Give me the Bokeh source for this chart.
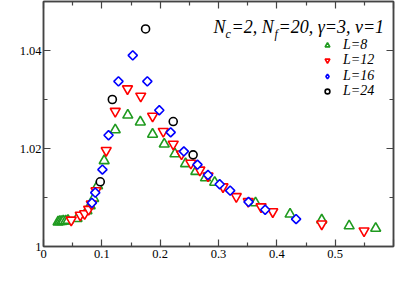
import numpy as np
from bokeh.plotting import figure
from bokeh.models import (LinearAxis, FixedTicker, Range1d, Label, Legend, LegendItem)
from bokeh.embed import file_html
from bokeh.resources import INLINE

# ---- data ----
x_L8 = [0.025, 0.028, 0.031, 0.034, 0.038, 0.042, 0.0575, 0.0745, 0.080, 0.086, 0.0927,
        0.104, 0.123, 0.1445, 0.166, 0.187, 0.207, 0.2253, 0.2435, 0.2611, 0.2777, 0.2935,
        0.3635, 0.4227, 0.477, 0.524, 0.5695]
y_L8 = [1.0050, 1.0051, 1.0051, 1.0052, 1.0052, 1.0053, 1.0057, 1.0073, 1.0083, 1.0098, 1.0124,
        1.0175, 1.0238, 1.0268, 1.0254, 1.0229, 1.0209, 1.0189, 1.0169, 1.0153, 1.0140, 1.0131,
        1.0089, 1.0066, 1.0054, 1.0042, 1.0037]

x_L12 = [0.0475, 0.063, 0.0705, 0.0774, 0.082, 0.090, 0.1075, 0.123, 0.144, 0.1667, 0.187,
         0.2053, 0.2224, 0.2366, 0.2526, 0.268, 0.282, 0.3077, 0.3305, 0.351, 0.373, 0.393,
         0.477, 0.5495]
y_L12 = [1.0054, 1.0064, 1.0067, 1.0076, 1.0087, 1.0114, 1.0196, 1.0276, 1.0322, 1.0307, 1.0266,
         1.0235, 1.0209, 1.0189, 1.0170, 1.0156, 1.0144, 1.0122, 1.0102, 1.0092, 1.0081, 1.0071,
         1.0046, 1.0032]

x_L16 = [0.083, 0.0887, 0.101, 0.1115, 0.1285, 0.153, 0.178, 0.1985, 0.218, 0.2406, 0.264,
         0.282, 0.302, 0.320, 0.3515, 0.380, 0.433]
y_L16 = [1.0089, 1.0110, 1.0157, 1.0227, 1.0337, 1.0390, 1.0337, 1.0278, 1.0233, 1.0194, 1.0167,
         1.0146, 1.0127, 1.0114, 1.0091, 1.0075, 1.0056]

x_L24 = [0.0973, 0.118, 0.175, 0.2224, 0.2565]
y_L24 = [1.0132, 1.0300, 1.0444, 1.0255, 1.0187]

series_labels = ["L=8", "L=12", "L=16", "L=24"]
x_ticks = [0, 0.1, 0.2, 0.3, 0.4, 0.5, 0.6]
x_tick_labels = ["0", "0.1", "0.2", "0.3", "0.4", "0.5", ""]
y_ticks = [1.0, 1.02, 1.04]
y_tick_labels = ["1", "1.02", "1.04"]

SERIF = "Liberation Serif"
GREEN = "#1f9a1f"
AXC = "#444444"

p = figure(output_backend="svg", toolbar_location=None,
           frame_width=350, frame_height=245,
           x_range=Range1d(0, 0.6), y_range=Range1d(1.0, 1.05),
           min_border_left=43, min_border_right=2, min_border_top=1, min_border_bottom=40,
           x_axis_location=None, y_axis_location=None)
p.grid.visible = False
p.outline_line_color = AXC
p.outline_line_width = 1.5
p.background_fill_color = "white"
p.border_fill_color = "white"

def style_axis(ax, ticks, minor, overrides, show_labels, standoff=3):
    ax.ticker = FixedTicker(ticks=ticks, minor_ticks=minor)
    ax.axis_line_color = AXC
    ax.axis_line_width = 1.5
    ax.major_tick_line_color = AXC
    ax.minor_tick_line_color = AXC
    ax.major_tick_line_width = 1.2
    ax.minor_tick_line_width = 1.2
    ax.major_tick_in = 7
    ax.major_tick_out = 0
    ax.minor_tick_in = 4
    ax.minor_tick_out = 0
    ax.major_label_text_font = SERIF
    ax.major_label_text_font_size = "12.5px"
    ax.major_label_text_color = "black"
    if show_labels:
        ax.major_label_overrides = overrides
        ax.major_label_standoff = standoff
    else:
        ax.major_label_overrides = {t: "" for t in ticks}
        ax.major_label_standoff = 0

x_minor = [0.05, 0.15, 0.25, 0.35, 0.45, 0.55]
y_minor = [1.01, 1.03, 1.05]
xo = {t: s for t, s in zip(x_ticks, x_tick_labels)}
yo = {t: s for t, s in zip(y_ticks, y_tick_labels)}

bx = LinearAxis(); style_axis(bx, x_ticks, x_minor, xo, True, 3); p.add_layout(bx, "below")
ly = LinearAxis(); style_axis(ly, y_ticks, y_minor, yo, True, 2); p.add_layout(ly, "left")
tx = LinearAxis(); style_axis(tx, x_ticks, x_minor, xo, False); p.add_layout(tx, "above")
ry = LinearAxis(); style_axis(ry, y_ticks, y_minor, yo, False); p.add_layout(ry, "right")

r8 = p.scatter(x_L8, y_L8, marker="triangle", size=10, line_color=GREEN, fill_color="white", line_width=1.6)
r12 = p.scatter(x_L12, y_L12, marker="inverted_triangle", size=10, line_color="red", fill_color="white", line_width=1.6)
r16 = p.scatter(x_L16, y_L16, marker="square", angle=np.pi / 4, size=6.5, line_color="blue", fill_color="white", line_width=1.6)
r24 = p.scatter(x_L24, y_L24, marker="circle", size=8, line_color="black", fill_color="white", line_width=1.6)
# legend-only key for L=16 (legend glyphs ignore the marker angle); its one point is NaN, so nothing is plotted
r16_key = p.scatter([np.nan], [np.nan], marker="diamond", size=10, line_color="blue", fill_color="white", line_width=1.6)

# one legend box per entry so the rows sit exactly where the reference has them
legend_y = [193, 178, 162, 147]
for lab_txt, r, ly_ in zip(series_labels, [r8, r12, r16_key, r24], legend_y):
    lg = Legend(items=[LegendItem(label=lab_txt, renderers=[r])],
                location=(278, ly_), orientation="vertical",
                label_text_font=SERIF, label_text_font_style="italic",
                label_text_font_size="14px", label_text_color="black",
                glyph_width=12, glyph_height=16, label_height=16, label_standoff=10,
                spacing=0, padding=0, margin=0,
                background_fill_alpha=0, border_line_alpha=0)
    p.add_layout(lg, "center")

def lab(text, x, y, size, italic=True, align="left", baseline="alphabetic"):
    p.add_layout(Label(x=x, y=y, x_units="screen", y_units="screen", text=text,
                       text_font=SERIF, text_font_style="italic" if italic else "normal",
                       text_font_size=size, text_color="black",
                       text_align=align, text_baseline=baseline))

# annotation N_c=2, N_f=20, gamma=3, v=1  (frame-relative screen coordinates)
MAIN_Y, SUB_Y = 220, 213
lab("N", 170, MAIN_Y, "18px")
lab("c", 182, SUB_Y, "12px")
lab("=2, N", 188, MAIN_Y, "18px")
lab("f", 231, SUB_Y, "12px")
lab("=20, \u03b3=3, v=1", 235, MAIN_Y, "18px")

# axis titles
lab("U", -40, 121, "18px", baseline="middle")
lab("R", 167, -19, "18px", baseline="middle")
lab("\u03be", 183, -30, "13px", baseline="middle")

open("out.html", "w").write(file_html(p, INLINE))
